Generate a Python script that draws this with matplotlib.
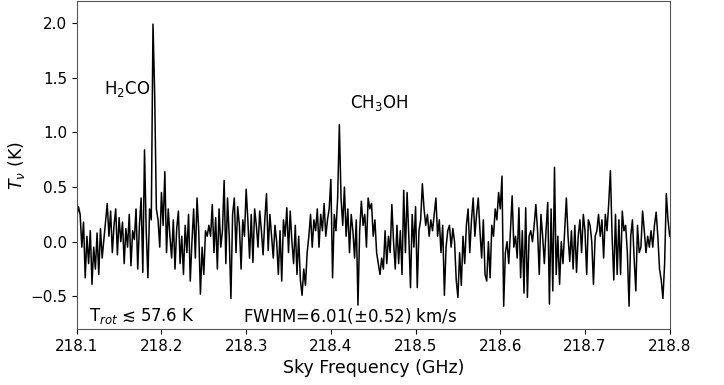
import numpy as np
import matplotlib
matplotlib.use('Agg')
import matplotlib.pyplot as plt

# Channel frequencies (GHz) and brightness temperature (K)
freq_start = 218.098
chan_width = 0.002
tb = [
    0.15, 0.22, 0.32, 0.25, -0.05, 0.18, -0.33, 0.05, -0.20, 0.10,
    -0.39, -0.05, -0.25, 0.08, -0.30, 0.12, -0.15, 0.02, 0.20, 0.35,
    0.05, 0.28, -0.10, 0.15, 0.30, -0.12, 0.22, 0.00, 0.18, -0.20,
    0.12, -0.05, 0.25, -0.22, 0.10, 0.02, 0.30, -0.25, 0.15, 0.40,
    -0.28, 0.84, 0.10, -0.33, 0.30, 0.20, 1.99, 1.35, 0.30, 0.20,
    -0.05, 0.45, 0.15, 0.64, -0.10, 0.30, 0.05, -0.15, 0.20, -0.25,
    0.12, 0.28, -0.20, 0.05, -0.30, 0.15, -0.10, 0.25, -0.36, 0.00,
    0.30, -0.15, 0.40, 0.10, -0.48, -0.05, -0.30, 0.10, 0.05, 0.15,
    0.05, 0.34, -0.10, 0.22, -0.25, 0.30, -0.05, 0.10, 0.56, -0.20,
    0.40, 0.05, -0.52, 0.25, 0.40, -0.10, 0.32, 0.15, -0.25, 0.20,
    0.05, 0.48, 0.20, -0.15, 0.25, -0.19, 0.30, 0.15, -0.05, 0.28,
    0.10, -0.12, 0.20, 0.44, -0.08, 0.25, 0.05, -0.15, 0.15, 0.00,
    -0.30, 0.10, -0.36, 0.20, 0.05, 0.31, -0.10, 0.28, 0.00, -0.20,
    0.15, -0.30, 0.05, -0.35, -0.49, -0.25, -0.40, -0.10, 0.05, 0.25,
    -0.05, 0.20, 0.10, 0.30, -0.05, 0.25, 0.10, 0.35, 0.05, 0.20,
    0.30, 0.57, -0.33, 0.25, 0.10, 0.40, 1.07, 0.40, 0.15, 0.50,
    0.05, 0.30, -0.10, 0.25, 0.10, -0.15, 0.20, -0.58, 0.10, 0.37,
    0.15, 0.25, -0.05, 0.40, 0.30, 0.35, 0.05, 0.20, -0.10, -0.20,
    -0.30, -0.15, -0.25, 0.10, -0.20, 0.05, -0.10, 0.34, 0.00, -0.25,
    0.15, -0.20, 0.10, -0.30, 0.47, -0.10, 0.45, 0.05, -0.42, 0.25,
    -0.05, 0.32, -0.42, 0.10, 0.20, 0.53, 0.30, 0.15, 0.25, 0.05,
    0.20, 0.10, 0.25, 0.40, 0.05, 0.20, -0.10, 0.15, -0.49, -0.05,
    0.10, 0.15, -0.05, 0.12, 0.00, -0.35, -0.51, -0.10, -0.40, 0.05,
    -0.20, 0.15, 0.30, -0.10, 0.20, 0.40, 0.05, 0.25, 0.40, 0.10,
    -0.15, 0.20, -0.30, -0.36, 0.00, -0.33, 0.15, 0.05, 0.30, 0.20,
    0.45, 0.30, 0.60, -0.59, -0.10, 0.00, -0.20, 0.10, 0.42, -0.05,
    0.05, -0.15, 0.31, -0.33, 0.10, -0.47, 0.31, -0.51, 0.05, 0.10,
    0.00, 0.15, 0.34, 0.10, -0.30, 0.25, 0.05, -0.20, 0.10, 0.36,
    -0.57, 0.30, -0.45, 0.68, -0.30, 0.05, -0.39, 0.00, -0.20, 0.10,
    0.40, 0.05, -0.18, 0.10, -0.25, 0.15, -0.28, 0.05, 0.20, -0.10,
    0.25, 0.10, -0.30, 0.20, 0.15, 0.00, -0.39, 0.05, 0.10, 0.25,
    0.05, 0.20, -0.15, 0.25, 0.10, 0.35, 0.65, 0.05, -0.35, 0.25,
    -0.30, 0.20, -0.30, 0.28, 0.10, 0.15, -0.10, -0.59, 0.05, 0.20,
    -0.15, -0.45, 0.15, -0.10, -0.05, 0.28, 0.10, -0.10, 0.05, -0.05,
    0.10, -0.05, 0.15, 0.27, 0.05, -0.25, -0.35, -0.52, -0.20, 0.44,
    0.20, 0.05,
]
freq = freq_start + chan_width * np.arange(len(tb))

xticks = [218.1, 218.2, 218.3, 218.4, 218.5, 218.6, 218.7, 218.8]
yticks = [-0.5, 0.0, 0.5, 1.0, 1.5, 2.0]

fig = plt.figure(figsize=(7.24, 3.85), dpi=100)
ax = fig.add_axes([0.106, 0.145, 0.819, 0.852])

ax.plot(freq, tb, color='black', linewidth=1.1)

ax.set_xlim(218.1, 218.8)
ax.set_ylim(-0.8, 2.2)
ax.set_xticks(xticks)
ax.set_yticks(yticks)
ax.tick_params(labelsize=11)
for s in ax.spines.values():
    s.set_color('#555555')

ax.set_xlabel('Sky Frequency (GHz)', fontsize=12.5)
ax.set_ylabel(r'$T_\nu$ (K)', fontsize=12.5, labelpad=2)

# line labels
ax.text(218.132, 1.40, r'H$_2$CO', fontsize=12, ha='left', va='center')
ax.text(218.4225, 1.27, r'CH$_3$OH', fontsize=12, ha='left', va='center')

# fit results
ax.text(218.114, -0.675, 'T$_{rot}$ ≲ 57.6 K', fontsize=12, ha='left', va='center')
ax.text(218.296, -0.675, r'FWHM=6.01($\pm$0.52) km/s', fontsize=12, ha='left', va='center')

fig.savefig('out.png', dpi=100)
